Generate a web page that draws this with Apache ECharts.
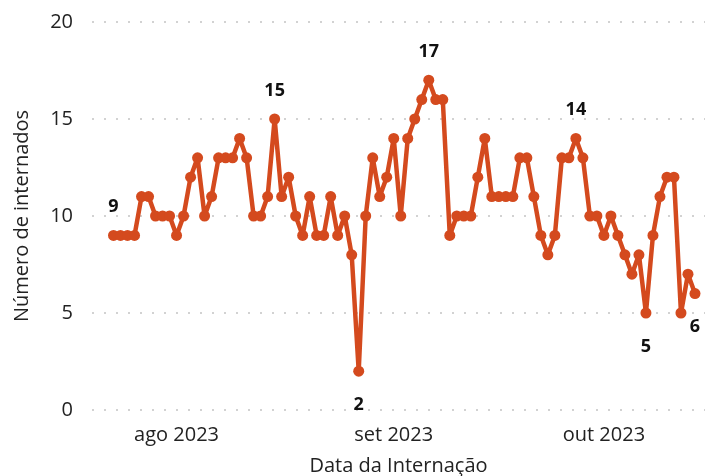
<!DOCTYPE html>
<html>
<head>
<meta charset="utf-8">
<script src="https://cdn.jsdelivr.net/npm/echarts@6/dist/echarts.min.js"></script>
<style>
  html, body { margin: 0; padding: 0; background: #fff; }
  #chart { width: 705px; height: 476px; }
</style>
</head>
<body>
<div id="chart"></div>
<script>
// internações diárias, a partir de 23/07/2023
const startDate = [2023, 6, 23];
const internados = [
  9, 9, 9, 9, 11, 11, 10, 10, 10, 9,
  10, 12, 13, 10, 11, 13, 13, 13, 14, 13,
  10, 10, 11, 15, 11, 12, 10, 9, 11, 9,
  9, 11, 9, 10, 8, 2, 10, 13, 11, 12,
  14, 10, 14, 15, 16, 17, 16, 16, 9, 10,
  10, 10, 12, 14, 11, 11, 11, 11, 13, 13,
  11, 9, 8, 9, 13, 13, 14, 13, 10, 10,
  9, 10, 9, 8, 7, 8, 5, 9, 11, 12,
  12, 5, 7, 6
];
// rótulos do eixo x (início de cada mês)
const monthTicks = [[2023, 7, 1], [2023, 8, 1], [2023, 9, 1]];
const monthLabels = ['ago 2023', 'set 2023', 'out 2023'];
const yTicks = [0, 5, 10, 15, 20];
// pontos com valor anotado
const labelsAbove = [0, 23, 45, 66];
const labelsBelow = [35, 76, 83];

// eixo x em dias desde a data inicial
const DAY = 86400000;
const t0 = Date.UTC(startDate[0], startDate[1], startDate[2]);
const tickDays = monthTicks.map(d => Math.round((Date.UTC(d[0], d[1], d[2]) - t0) / DAY));

const seriesData = internados.map((v, i) => {
  const item = { value: [i, v] };
  if (labelsAbove.includes(i)) {
    item.label = { show: true, position: 'top', distance: 14 };
  } else if (labelsBelow.includes(i)) {
    item.label = { show: true, position: 'bottom', distance: 19 };
  }
  return item;
});

const chart = echarts.init(document.getElementById('chart'));
const font = '"Open Sans", "Noto Sans", sans-serif';
chart.setOption({
  animation: false,
  textStyle: { fontFamily: font },
  grid: { left: 92, right: 0, top: 22, bottom: 66, outerBoundsMode: 'none' },
  xAxis: {
    type: 'value',
    min: -3.07,
    max: internados.length - 1 + 1.43,
    name: 'Data da Internação',
    nameLocation: 'middle',
    nameGap: 46,
    nameTextStyle: { fontSize: 20, color: '#222', fontFamily: font },
    axisLine: { show: false },
    axisTick: { show: false },
    splitLine: { show: false },
    axisLabel: {
      customValues: tickDays,
      fontSize: 20,
      color: '#222',
      fontFamily: font,
      margin: 15,
      formatter: v => {
        const k = tickDays.indexOf(v);
        return k >= 0 ? monthLabels[k] : '';
      }
    }
  },
  yAxis: {
    type: 'value',
    min: yTicks[0],
    max: yTicks[yTicks.length - 1],
    interval: 5,
    name: 'Número de internados',
    nameLocation: 'middle',
    nameGap: 60,
    nameTextStyle: { fontSize: 20, color: '#222', fontFamily: font },
    axisLine: { show: false },
    axisTick: { show: false },
    axisLabel: { fontSize: 20, color: '#222', margin: 19, fontFamily: font },
    splitLine: {
      show: true,
      lineStyle: { color: '#c4c4c4', width: 1.5, type: [2, 10] }
    }
  },
  series: [
    {
      name: 'Internados',
      type: 'line',
      data: seriesData,
      symbol: 'circle',
      symbolSize: 11,
      lineStyle: { color: '#d44a1e', width: 4.5 },
      itemStyle: { color: '#d44a1e' },
      label: {
        show: false,
        fontSize: 18,
        fontWeight: 'bold',
        color: '#111',
        fontFamily: font,
        formatter: p => p.value[1]
      }
    }
  ]
});
</script>
</body>
</html>
